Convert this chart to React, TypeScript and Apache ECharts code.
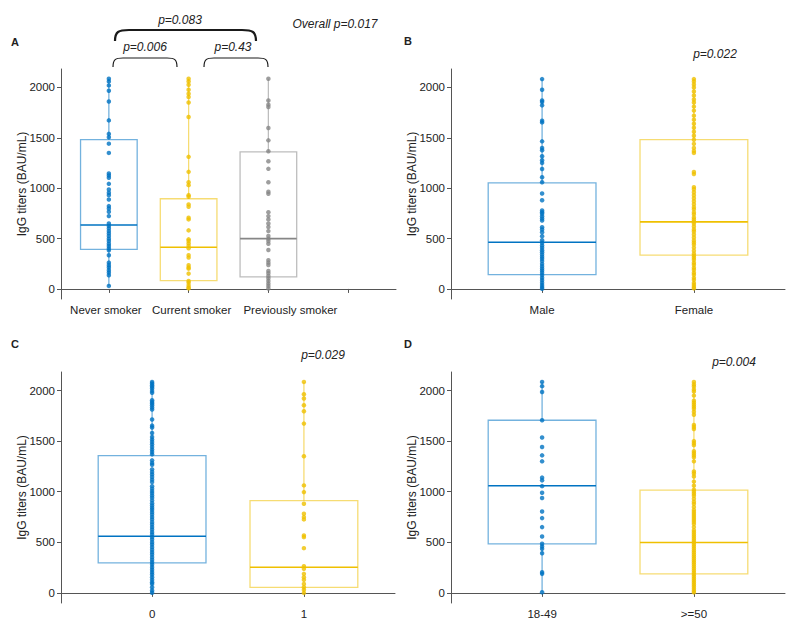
import React, { useEffect, useRef } from "react";
import * as echarts from "echarts";

// ---------- data ----------
const catsA = ["Never smoker", "Current smoker", "Previously smoker", ""];
const catsB = ["Male", "Female"];
const catsC = ["0", "1"];
const catsD = ["18-49", ">=50"];
const yTicks = [0, 500, 1000, 1500, 2000];

// box stats: [min, q1, median, q3, max]
const boxA = [[30, 393, 634, 1482, 2086], [5, 83, 413, 895, 2086], [4, 119, 499, 1360, 2086]];
const boxB = [[2, 141, 464, 1052, 2083], [5, 335, 666, 1482, 2083]];
const boxC = [[2, 297, 560, 1356, 2085], [0, 55, 253, 911, 2085]];
const boxD = [[6, 485, 1059, 1706, 2085], [5, 188, 498, 1016, 2085]];

const ptsNever = [2086, 2060, 2020, 1967, 1861, 1673, 1539, 1505, 1442, 1350, 1146, 1126, 1103, 1043, 987, 954, 931, 888, 822, 799, 766, 723, 650, 624, 601, 574, 551, 525, 499, 475, 449, 426, 403, 383, 334, 261, 235, 212, 185, 162, 136, 30];
const ptsCurrent = [2086, 2060, 2027, 1977, 1938, 1905, 1851, 1707, 1311, 1162, 1059, 1030, 931, 915, 839, 816, 707, 690, 581, 492, 475, 452, 426, 403, 334, 311, 235, 212, 201, 152, 79, 63, 37, 14, 5];
const ptsPrevious = [2086, 1871, 1829, 1806, 1598, 1475, 1366, 1267, 1192, 1059, 964, 944, 762, 723, 690, 650, 614, 574, 525, 499, 475, 449, 386, 284, 261, 238, 178, 155, 129, 106, 79, 53, 30, 4];

const ptsMale = [2083, 1977, 1871, 1855, 1822, 1670, 1653, 1465, 1399, 1376, 1317, 1277, 1251, 1191, 1108, 1059, 947, 880, 778, 762, 745, 722, 699, 679, 613, 590, 563, 524, 484, 458, 431, 408, 385, 365, 342, 319, 299, 276, 249, 226, 203, 183, 160, 137, 111, 87, 61, 38, 18, 2];
const ptsFemale = [2083, 2060, 2030, 2000, 1960, 1920, 1880, 1850, 1810, 1770, 1720, 1680, 1640, 1600, 1560, 1520, 1480, 1440, 1400, 1370, 1350, 1160, 1140, 1010, 990, 960, 930, 900, 870, 840, 810, 790, 760, 740, 710, 690, 670, 650, 620, 590, 570, 540, 510, 480, 460, 440, 410, 380, 350, 330, 310, 290, 260, 240, 210, 190, 160, 140, 110, 90, 60, 40, 20, 5];

const ptsC0 = [2085, 2069, 2052, 2036, 2020, 1996, 1977, 1904, 1887, 1871, 1854, 1832, 1812, 1713, 1653, 1634, 1580, 1541, 1515, 1491, 1468, 1442, 1416, 1392, 1369, 1310, 1283, 1267, 1221, 1194, 1171, 1145, 1119, 1095, 1055, 1030, 1006, 986, 963, 941, 914, 887, 864, 842, 822, 798, 775, 749, 726, 699, 676, 650, 627, 600, 577, 551, 528, 501, 478, 452, 426, 402, 379, 352, 327, 303, 280, 254, 228, 204, 181, 155, 129, 105, 89, 56, 23, 2];
const ptsC1 = [2085, 1963, 1921, 1854, 1795, 1673, 1350, 1062, 996, 881, 782, 749, 726, 567, 551, 442, 264, 238, 188, 155, 129, 89, 56, 30, 0];

const ptsD1 = [2085, 2043, 1986, 1706, 1535, 1442, 1359, 1300, 1139, 1112, 1055, 990, 937, 805, 739, 650, 557, 485, 458, 435, 392, 204, 188, 6];
const ptsD2 = [2085, 2060, 2040, 2010, 1990, 1950, 1900, 1880, 1860, 1840, 1820, 1790, 1760, 1660, 1640, 1620, 1500, 1480, 1460, 1400, 1380, 1360, 1340, 1300, 1200, 1180, 1150, 1100, 1060, 1020, 1000, 980, 960, 930, 900, 880, 850, 820, 800, 780, 760, 740, 720, 700, 680, 650, 620, 600, 580, 560, 540, 520, 500, 480, 460, 440, 420, 400, 380, 360, 340, 320, 300, 280, 260, 240, 220, 200, 180, 160, 140, 120, 100, 80, 60, 40, 20, 5];

const COLORS = ["#0073C2", "#EFC000", "#868686"];
const FONT = "Liberation Sans, Arial, sans-serif";
const TXT = "#222";
const AX = "#555";

type Panel = {
  cats: string[];
  boxes: number[][];
  pts: number[][];
  xMax: number;
  shifts: number[];
  grid: { left: number; top: number; width: number; height: number };
};

const panels: Panel[] = [
  { cats: catsA, boxes: boxA, pts: [ptsNever, ptsCurrent, ptsPrevious], xMax: 4.6, shifts: [-3, 3, 22, 0], grid: { left: 61, top: 69, width: 335, height: 230 } },
  { cats: catsB, boxes: boxB, pts: [ptsMale, ptsFemale], xMax: 2.6, shifts: [0, 0], grid: { left: 451, top: 69, width: 334, height: 230 } },
  { cats: catsC, boxes: boxC, pts: [ptsC0, ptsC1], xMax: 2.6, shifts: [0, 0], grid: { left: 61, top: 372, width: 334, height: 231 } },
  { cats: catsD, boxes: boxD, pts: [ptsD1, ptsD2], xMax: 2.6, shifts: [0, 0], grid: { left: 451, top: 372, width: 334, height: 231 } },
];

function bracket(x1: number, x2: number, yTop: number, yEnd: number, r: number, w: number) {
  const st = { stroke: "#1a1a1a", lineWidth: w, fill: "none" };
  return [
    { type: "bezierCurve", shape: { x1: x1, y1: yEnd, cpx1: x1, cpy1: yTop + (yEnd - yTop) * 0.15, cpx2: x1 + r * 0.25, cpy2: yTop, x2: x1 + r, y2: yTop }, style: st },
    { type: "line", shape: { x1: x1 + r, y1: yTop, x2: x2 - r, y2: yTop }, style: st },
    { type: "bezierCurve", shape: { x1: x2 - r, y1: yTop, cpx1: x2 - r * 0.25, cpy1: yTop, cpx2: x2, cpy2: yTop + (yEnd - yTop) * 0.15, x2: x2, y2: yEnd }, style: st },
  ];
}

function txt(text: string, x: number, y: number, opts: any = {}) {
  return {
    type: "text",
    x,
    y,
    style: {
      text,
      fill: TXT,
      font: `${opts.italic ? "italic " : ""}${opts.weight || "normal"} ${opts.size || 12}px ${FONT}`,
      align: opts.align || "center",
      verticalAlign: "middle",
    },
  };
}

export default function App() {
  const ref = useRef<HTMLDivElement>(null);
  useEffect(() => {
    if (!ref.current) return;
    const chart = echarts.init(ref.current, undefined, { renderer: "svg" });
    const grids: any[] = [];
    const xAxes: any[] = [];
    const yAxes: any[] = [];
    const series: any[] = [];
    panels.forEach((p, i) => {
      grids.push({ ...p.grid, containLabel: false });
      const tickVals = p.cats.map((_, k) => k + 1);
      const labelVals = p.cats.map((_, k) => k + 1).filter((k) => p.cats[k - 1] !== "");
      const rich: any = {};
      p.shifts.forEach((s, k) => {
        rich["s" + k] = {
          fontSize: 11.5,
          fontFamily: FONT,
          color: TXT,
          padding: s >= 0 ? [0, 0, 0, 2 * s] : [0, -2 * s, 0, 0],
        };
      });
      xAxes.push({
        type: "value",
        gridIndex: i,
        min: 0.4,
        max: p.xMax,
        splitLine: { show: false },
        axisLine: { show: true, lineStyle: { color: AX, width: 1 } },
        axisTick: { show: true, length: 4, lineStyle: { color: AX }, customValues: tickVals },
        axisLabel: {
          customValues: labelVals,
          formatter: (v: number) => {
            const k = Math.round(v) - 1;
            const s = p.cats[k] ?? "";
            return s ? `{s${k}|${s}}` : "";
          },
          rich,
          color: TXT,
          fontSize: 11.5,
          fontFamily: FONT,
          margin: 5,
        },
      });
      yAxes.push({
        type: "value",
        gridIndex: i,
        min: -100,
        max: 2183,
        name: "IgG titers (BAU/mL)",
        nameLocation: "middle",
        nameGap: 33,
        nameMoveOverlap: false,
        nameTextStyle: { color: TXT, fontSize: 12, fontFamily: FONT },
        splitLine: { show: false },
        axisLine: { show: true, lineStyle: { color: AX, width: 1 } },
        axisTick: { show: true, length: 4, lineStyle: { color: AX }, customValues: yTicks },
        axisLabel: {
          customValues: yTicks,
          formatter: (v: number) => String(v),
          color: TXT,
          fontSize: 11.5,
          fontFamily: FONT,
          margin: 6,
        },
      });
      series.push({
        type: "custom",
        xAxisIndex: i,
        yAxisIndex: i,
        clip: false,
        z: 2,
        encode: { x: 0, y: [1, 2, 3, 4, 5] },
        data: p.boxes.map((b, k) => [k + 1, ...b, k]),
        renderItem: (_params: any, api: any) => {
          const x = api.value(0);
          const col = COLORS[api.value(6)];
          const pMin = api.coord([x, api.value(1)]);
          const pQ1 = api.coord([x, api.value(2)]);
          const pMed = api.coord([x, api.value(3)]);
          const pQ3 = api.coord([x, api.value(4)]);
          const pMax = api.coord([x, api.value(5)]);
          const hw = api.size([0.355, 0])[0];
          const light = { stroke: col, lineWidth: 1.3, opacity: 0.55, fill: "none" };
          return {
            type: "group",
            children: [
              { type: "line", shape: { x1: pMax[0], y1: pMax[1], x2: pQ3[0], y2: pQ3[1] }, style: light },
              { type: "line", shape: { x1: pMin[0], y1: pMin[1], x2: pQ1[0], y2: pQ1[1] }, style: light },
              { type: "rect", shape: { x: pQ3[0] - hw, y: pQ3[1], width: hw * 2, height: pQ1[1] - pQ3[1] }, style: light },
              { type: "line", shape: { x1: pMed[0] - hw, y1: pMed[1], x2: pMed[0] + hw, y2: pMed[1] }, style: { stroke: col, lineWidth: 1.6 } },
            ],
          };
        },
      });
      p.pts.forEach((arr, k) => {
        series.push({
          type: "scatter",
          xAxisIndex: i,
          yAxisIndex: i,
          z: 3,
          symbol: "circle",
          symbolSize: 4.5,
          itemStyle: { color: COLORS[k] },
          data: arr.map((v) => [k + 1, v]),
        });
      });
    });

    const graphic: any[] = [
      txt("A", 15, 42, { weight: "bold", size: 11 }),
      txt("B", 408, 41, { weight: "bold", size: 11 }),
      txt("C", 15, 344, { weight: "bold", size: 11 }),
      txt("D", 408, 344, { weight: "bold", size: 11 }),
      txt("Overall p=0.017", 335, 24, { italic: true }),
      txt("p=0.083", 180, 20, { italic: true }),
      txt("p=0.006", 145, 47, { italic: true }),
      txt("p=0.43", 233, 47, { italic: true }),
      txt("p=0.022", 715, 54, { italic: true }),
      txt("p=0.029", 323, 355, { italic: true }),
      txt("p=0.004", 734, 362, { italic: true }),
      ...bracket(113, 177, 58, 67, 10, 1.2),
      ...bracket(204, 268, 58, 67, 10, 1.2),
      ...bracket(115, 256, 30, 41, 14, 2.2),
    ];

    chart.setOption({
      animation: false,
      backgroundColor: "#ffffff",
      grid: grids,
      xAxis: xAxes,
      yAxis: yAxes,
      series,
      graphic,
    });
    return () => chart.dispose();
  }, []);
  return <div ref={ref} style={{ position: "absolute", left: 0, top: 0, width: 796, height: 630 }} />;
}
